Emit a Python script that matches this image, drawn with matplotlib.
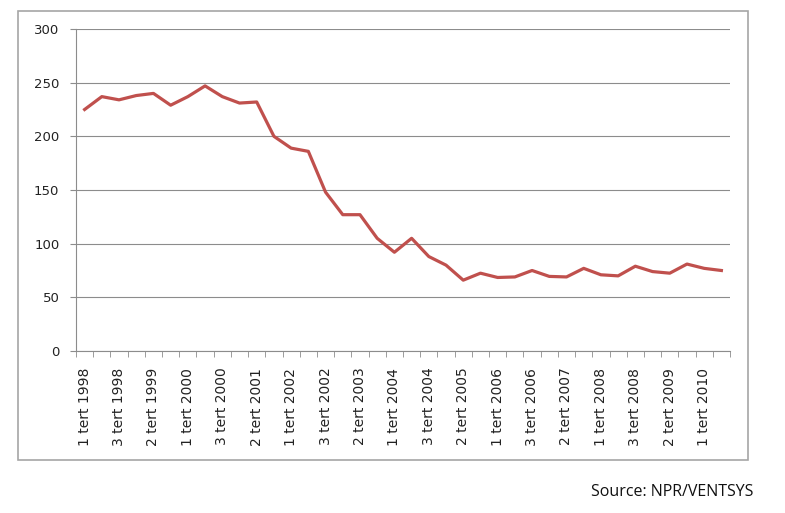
import numpy as np
import matplotlib
matplotlib.use("Agg")
import matplotlib.pyplot as plt
from matplotlib.patches import Rectangle

# trimestres 1998 - 2010
periodes = [f"{t} tert {a}" for a in range(1998, 2011) for t in (1, 2, 3)][:38]

valeurs = [225, 237, 234, 238, 240, 229, 237, 247, 237, 231,
           232, 200, 189, 186, 148, 127, 127, 105, 92, 105,
           88, 80, 66, 72.5, 68.5, 69, 75, 69.5, 69, 77,
           71, 70, 79, 74, 72.5, 81, 77, 75]

couleur = "#C0504D"
gris = "#8c8c8c"

fig = plt.figure(figsize=(7.85, 5.13), dpi=100)

# cadre du graphique
fig.patches.append(Rectangle((18 / 785, 1 - 460 / 513), 730 / 785, 449 / 513,
                             transform=fig.transFigure, fill=False,
                             edgecolor="#a6a6a6", linewidth=1.2))

ax = fig.add_axes([76 / 785, 1 - 351 / 513, 654 / 785, 322 / 513])

x = np.arange(len(valeurs))
ax.plot(x, valeurs, color=couleur, linewidth=2.3, solid_joinstyle="round")

ax.set_xlim(-0.5, len(valeurs) - 0.5)
ax.set_ylim(0, 300)
ax.set_yticks(range(0, 301, 50))
ax.yaxis.grid(True, color=gris, linewidth=0.8)
ax.set_axisbelow(True)

# etiquettes une sur deux
ax.set_xticks(x[::2])
ax.set_xticklabels(periodes[::2], rotation=90, fontsize=10, color="#222222")
ax.set_xticks(np.arange(-0.5, len(valeurs), 1), minor=True)
ax.tick_params(axis="x", which="major", length=0, pad=12)
ax.tick_params(axis="x", which="minor", length=4, color=gris)
ax.tick_params(axis="y", length=4, color=gris, labelsize=9.5, labelcolor="#222222", pad=8)

for s in ["top", "right"]:
    ax.spines[s].set_visible(False)
for s in ["left", "bottom"]:
    ax.spines[s].set_color(gris)
    ax.spines[s].set_linewidth(0.8)

fig.text(753 / 785, 1 - 492 / 513, "Source: NPR/VENTSYS", ha="right", va="center",
         fontsize=11.5, family="Open Sans", color="#111111")

fig.savefig("out.png", dpi=100)
